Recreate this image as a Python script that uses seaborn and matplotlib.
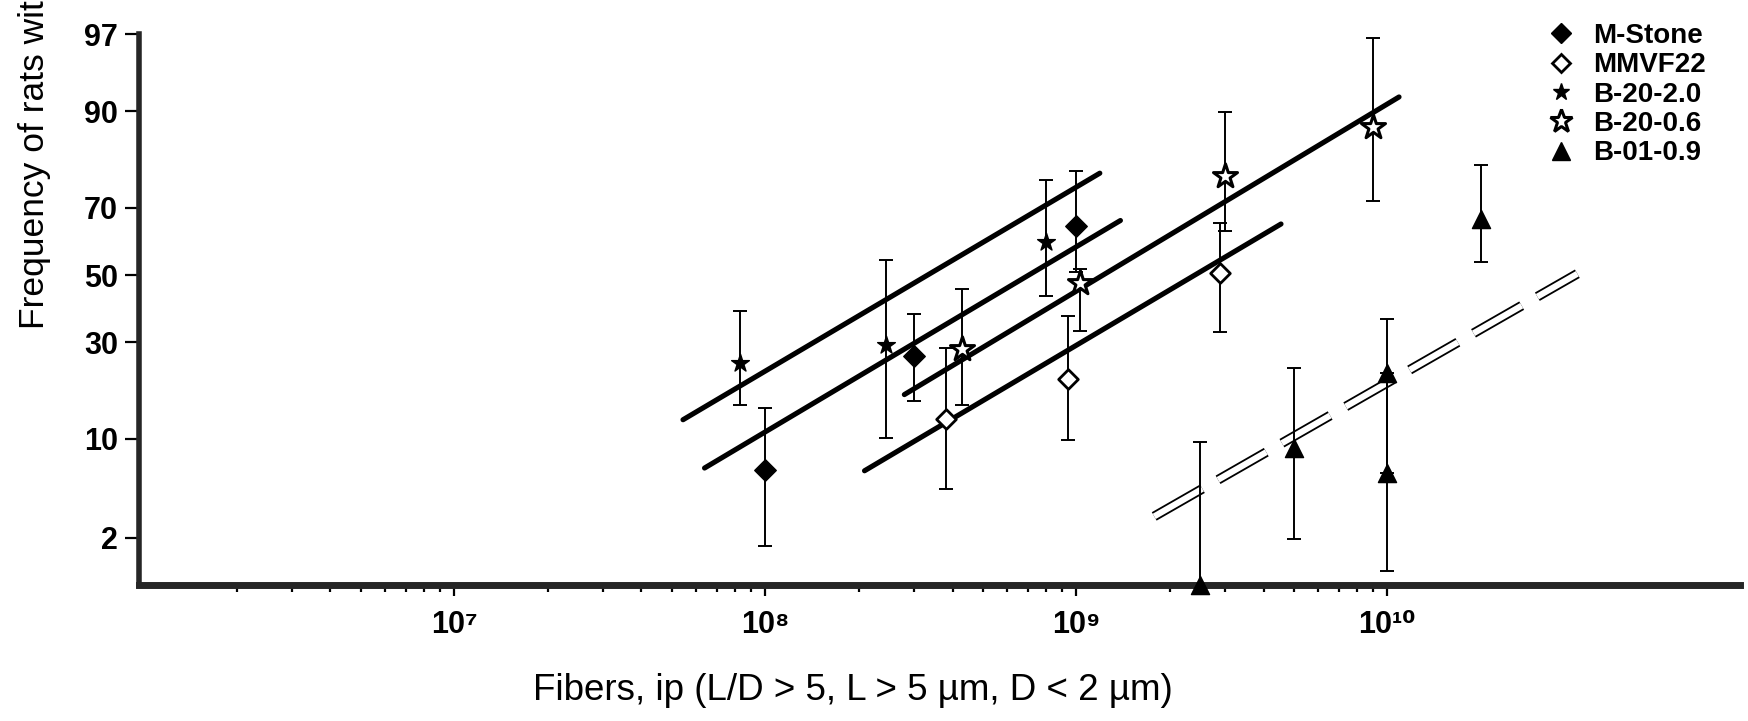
import math
import numpy as np
import matplotlib
matplotlib.use("Agg")
import matplotlib.pyplot as plt
from matplotlib.lines import Line2D
from matplotlib.ticker import FixedLocator, FixedFormatter, NullFormatter
import seaborn as sns

# ---------------- data (percent of rats with tumours vs. fibre dose) ----------------
mstone_x = [1e8, 3e8, 1e9]
mstone_y = [6.4, 26.4, 64.8]
mstone_lo = [1.7, 16.2, 51.0]
mstone_hi = [14.9, 38.0, 79.3]

mmvf_x = [3.8e8, 9.4e8, 2.9e9]
mmvf_y = [13.0, 20.8, 50.6]
mmvf_lo = [4.7, 9.8, 32.7]
mmvf_hi = [28.4, 37.3, 65.9]

b2020_x = [8.3e7, 2.45e8, 8.0e8]
b2020_y = [24.7, 29.3, 60.3]
b2020_lo = [15.4, 10.1, 43.5]
b2020_hi = [39.0, 54.7, 77.2]

b2006_x = [4.3e8, 1.03e9, 3.0e9, 9.0e9]
b2006_y = [28.1, 47.5, 78.1, 87.7]
b2006_lo = [15.4, 33.0, 63.6, 71.9]
b2006_hi = [45.6, 52.0, 89.9, 96.8]

b0109_x = [2.5e9, 5.0e9, 1.0e10, 1.0e10, 2.0e10]
b0109_y = [0.77, 8.8, 22.2, 6.1, 66.9]
b0109_lo = [0.77, 1.97, 6.1, 1.03, 53.9]
b0109_hi = [9.6, 23.4, 36.5, 22.2, 80.5]

# fitted probit lines (start / end of each drawn line)
fit_names = ["B-20-2.0", "M-Stone", "B-20-0.6", "MMVF22"]
fit_x0 = [5.44e7, 6.38e7, 2.80e8, 2.085e8]
fit_x1 = [1.19e9, 1.386e9, 1.09e10, 4.55e9]
fit_p0 = [12.9, 6.57, 17.5, 6.3]
fit_p1 = [78.7, 66.5, 91.8, 65.5]

dash_x = [1.78e9, 4.08e10]
dash_p = [2.96, 50.4]

y_ticks = [2, 10, 30, 50, 70, 90, 97]
x_major = [1e7, 1e8, 1e9, 1e10]
x_major_labels = ["10\u2077", "10\u2078", "10\u2079", "10\u00b9\u2070"]
x_minor = [m * 10.0 ** e for e in range(6, 10) for m in range(2, 10)]

x_label = "Fibers, ip (L/D > 5, L > 5 \u00b5m, D < 2 \u00b5m)"
y_label = "Frequency of rats with tumors (%)"

# ---------------- probit scale helpers ----------------
_a = [-3.969683028665376e+01, 2.209460984245205e+02, -2.759285104469687e+02,
      1.383577518672690e+02, -3.066479806614716e+01, 2.506628277459239e+00]
_b = [-5.447609879822406e+01, 1.615858368580409e+02, -1.556989798598866e+02,
      6.680131188771972e+01, -1.328068155288572e+01]
_c = [-7.784894002430293e-03, -3.223964580411365e-01, -2.400758277161838e+00,
      -2.549732539343734e+00, 4.374664141464968e+00, 2.938163982698783e+00]
_d = [7.784695709041462e-03, 3.224671290700398e-01, 2.445134137142996e+00,
      3.754408661907416e+00]


def _ppf(p):
    p = np.clip(np.asarray(p, dtype=float), 1e-12, 1 - 1e-12)
    out = np.empty_like(p)
    plow = 0.02425
    lo = p < plow
    hi = p > 1 - plow
    mid = ~(lo | hi)
    q = np.sqrt(-2 * np.log(p[lo]))
    out[lo] = (((((_c[0]*q+_c[1])*q+_c[2])*q+_c[3])*q+_c[4])*q+_c[5]) / \
              ((((_d[0]*q+_d[1])*q+_d[2])*q+_d[3])*q+1)
    q = np.sqrt(-2 * np.log(1 - p[hi]))
    out[hi] = -(((((_c[0]*q+_c[1])*q+_c[2])*q+_c[3])*q+_c[4])*q+_c[5]) / \
               ((((_d[0]*q+_d[1])*q+_d[2])*q+_d[3])*q+1)
    q = p[mid] - 0.5
    r = q * q
    out[mid] = (((((_a[0]*r+_a[1])*r+_a[2])*r+_a[3])*r+_a[4])*r+_a[5])*q / \
               (((((_b[0]*r+_b[1])*r+_b[2])*r+_b[3])*r+_b[4])*r+1)
    return out


_erf = np.vectorize(math.erf, otypes=[float])


def fwd(pct):
    return _ppf(np.asarray(pct, dtype=float) / 100.0)


def inv(z):
    z = np.asarray(z, dtype=float)
    return 100.0 * 0.5 * (1 + _erf(z / math.sqrt(2)))


# ---------------- style ----------------
sns.set_style("ticks")
plt.rcParams["font.family"] = ["Liberation Sans", "DejaVu Sans"]
plt.rcParams["lines.scale_dashes"] = False

W, H = 1748, 721
fig = plt.figure(figsize=(W / 100, H / 100), dpi=100)
fig.patch.set_facecolor("white")
ax = fig.add_axes([139 / W, (H - 585) / H, (1740 - 139) / W, (585 - 34.4) / H])
ax.set_facecolor("white")

ax.set_xscale("log")
ax.set_yscale("function", functions=(fwd, inv))
ax.set_xlim(9.7e5, 1.36e11)
ax.set_ylim(0.77, 97)

# fit lines
for x0, x1, p0, p1 in zip(fit_x0, fit_x1, fit_p0, fit_p1):
    ax.plot([x0, x1], [p0, p1], color="black", lw=3.7, solid_capstyle="round", zorder=2)

ax.plot(dash_x, dash_p, color="black", lw=7.0, dashes=(40, 13), dash_capstyle="butt", zorder=2)
ax.plot(dash_x, dash_p, color="white", lw=4.4, dashes=(40, 13), dash_capstyle="butt", zorder=2.1)

series = [
    ("M-Stone", mstone_x, mstone_y, mstone_lo, mstone_hi, "D", "black", 1.0, 120),
    ("MMVF22", mmvf_x, mmvf_y, mmvf_lo, mmvf_hi, "D", "white", 2.0, 100),
    ("B-20-2.0", b2020_x, b2020_y, b2020_lo, b2020_hi, "*", "black", 1.0, 180),
    ("B-20-0.6", b2006_x, b2006_y, b2006_lo, b2006_hi, "*", "white", 2.2, 330),
    ("B-01-0.9", b0109_x, b0109_y, b0109_lo, b0109_hi, "^", "black", 1.0, 170),
]

handles = []
for name, xs, ys, los, his, mk, fc, mew, s in series:
    xs = np.array(xs); ys = np.array(ys)
    yerr = [ys - np.array(los), np.array(his) - ys]
    ax.errorbar(xs, ys, yerr=yerr, fmt="none", ecolor="black", elinewidth=1.4,
                capsize=4.8, capthick=1.4, zorder=2.5, clip_on=False)
    sns.scatterplot(x=xs, y=ys, ax=ax, marker=mk, s=s, color=fc, edgecolor="black",
                    linewidth=mew, zorder=3, clip_on=False, legend=False)
    handles.append(Line2D([], [], ls="none", marker=mk, markersize=math.sqrt(s) * 0.95,
                          markerfacecolor=fc, markeredgecolor="black", markeredgewidth=mew,
                          label=name))

# axes styling
for side in ["top", "right"]:
    ax.spines[side].set_visible(False)
ax.spines["left"].set_linewidth(4)
ax.spines["bottom"].set_linewidth(5)

ax.yaxis.set_major_locator(FixedLocator(y_ticks))
ax.yaxis.set_major_formatter(FixedFormatter([str(v) for v in y_ticks]))
ax.yaxis.set_minor_locator(FixedLocator([]))
ax.xaxis.set_major_locator(FixedLocator(x_major))
ax.xaxis.set_major_formatter(FixedFormatter(x_major_labels))
ax.xaxis.set_minor_locator(FixedLocator(x_minor))
ax.xaxis.set_minor_formatter(NullFormatter())

ax.tick_params(axis="y", which="major", direction="out", length=10, width=1.6,
               labelsize=22, pad=5, color="black", labelcolor="black")
ax.tick_params(axis="x", which="major", direction="out", length=8, width=1.6,
               labelsize=22, pad=10, color="black", labelcolor="black")
ax.tick_params(axis="x", which="minor", direction="out", length=5, width=1.6, color="black")
for lab in ax.get_yticklabels() + ax.get_xticklabels():
    lab.set_fontweight("bold")

ax.set_xlabel(x_label, fontsize=26.5, color="black")
ax.xaxis.set_label_coords(0.446, -0.16)
ax.set_ylabel(y_label, fontsize=25.5, color="black", loc="bottom")
ax.yaxis.set_label_coords(-0.055, 0.465)

leg = fig.legend(handles=handles, loc="upper left", bbox_to_anchor=(1547 / W, 1 - 23 / H),
                 frameon=False, handlelength=1.0, handletextpad=0.65,
                 labelspacing=0.12, borderpad=0, borderaxespad=0,
                 prop={"weight": "bold", "size": 20})
for t in leg.get_texts():
    t.set_color("black")

fig.savefig("out.png", dpi=100, facecolor="white")
